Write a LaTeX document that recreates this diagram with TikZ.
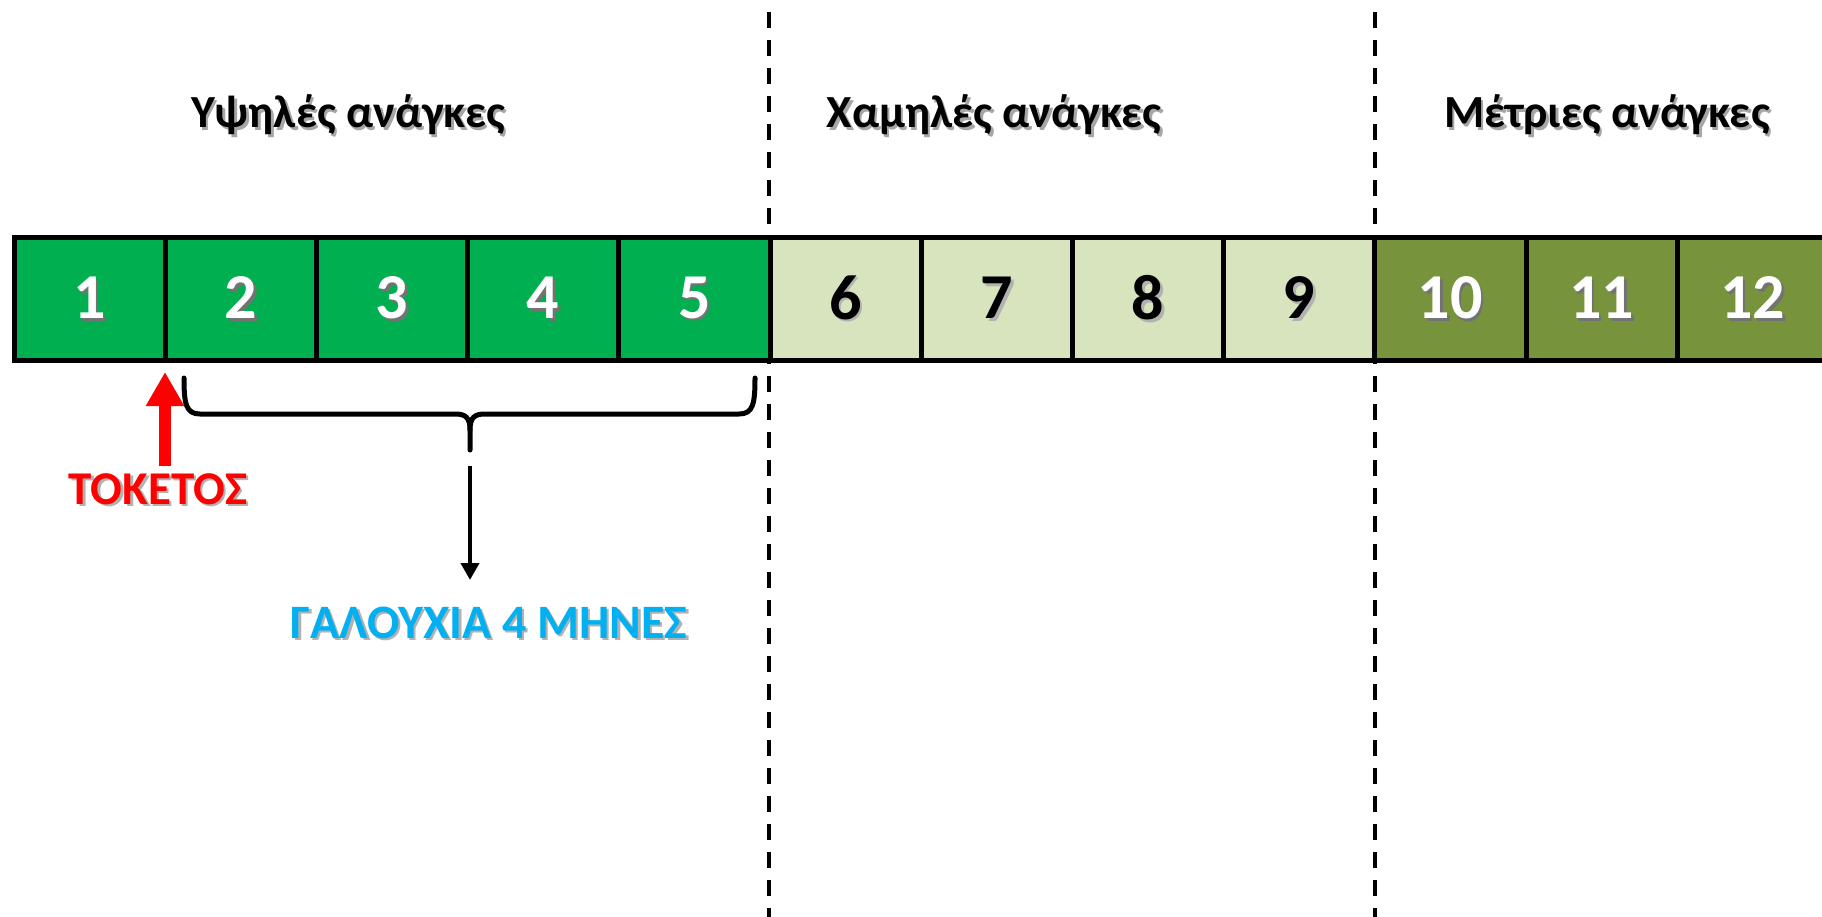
\documentclass[tikz,border=0pt]{standalone}
\usepackage{fontspec}
\setmainfont{Carlito}
\usetikzlibrary{arrows.meta}
\definecolor{hiGreen}{HTML}{00B050}
\definecolor{loGreen}{HTML}{D7E4BD}
\definecolor{midGreen}{HTML}{77933C}
\definecolor{birthRed}{HTML}{FF0000}
\definecolor{milkBlue}{HTML}{00B0F0}
\newcommand{\shtext}[2]{{\makebox[0pt][l]{\hspace{2.5pt}\raisebox{-2.5pt}{\color{#1}#2}}#2}}
\tikzset{
  cell/.style={draw=black, line width=5pt, minimum width=151.2pt, minimum height=122pt,
    inner sep=0pt, font=\fontsize{64}{70}\selectfont\bfseries},
  hicell/.style={cell, fill=hiGreen, text=white},
  locell/.style={cell, fill=loGreen, text=black},
  midcell/.style={cell, fill=midGreen, text=white},
  title/.style={font=\fontsize{46}{52}\selectfont\bfseries, anchor=base, inner sep=0pt},
  divider/.style={line width=4pt, dash pattern=on 16pt off 12pt},
  bracepath/.style={line width=5pt, line cap=round, line join=round},
  redarrow/.style={draw=birthRed, line width=12pt, -{Triangle[width=36pt,length=34pt]}},
  blackarrow/.style={line width=4pt, -{Triangle[width=18pt,length=17pt]}},
  label/.style={font=\fontsize{47}{52}\selectfont\bfseries, inner sep=0pt},
}
\begin{document}
\begin{tikzpicture}[x=1pt,y=-1pt]
\useasboundingbox (0,0) rectangle (1822,917);
% dividers
\draw[divider] (769,12) -- (769,917);
\draw[divider] (1375,12) -- (1375,917);
% titles
\node[title] (t1) at (348,128) {\shtext{black!35}{Υψηλές ανάγκες}};
\node[title] (t2) at (994,128) {\shtext{black!35}{Χαμηλές ανάγκες}};
\node[title] (t3) at (1607,128) {\shtext{black!35}{Μέτριες ανάγκες}};
% cells
\foreach \i in {1,...,5}
  \node[hicell] (b\i) at ({14+151.2*(\i-0.5)},299) {\shtext{black!55}{\i}};
\foreach \i in {6,...,9}
  \node[locell] (b\i) at ({14+151.2*(\i-0.5)},299) {\shtext{black!30}{\i}};
\foreach \i in {10,...,12}
  \node[midcell] (b\i) at ({14+151.2*(\i-0.5)},299) {\shtext{black!55}{\i}};
% birth
\node[label, text=birthRed] (birth) at (158,490) {\shtext{black!30}{ΤΟΚΕΤΟΣ}};
\coordinate (birthbase) at (165,466);
\coordinate (birthtip) at (165,372);
\draw[redarrow] (birthbase) -- (birthtip);
% brace
\coordinate (bl) at (184,378);
\coordinate (br) at (755,378);
\coordinate (btip) at (470,450);
\draw[bracepath] (bl) .. controls (184,404) and (186,414) .. (200,414) -- (455,414)
  .. controls (465,414) and (470,417) .. (470,430) -- (btip);
\draw[bracepath] (br) .. controls (755,404) and (753,414) .. (739,414) -- (485,414)
  .. controls (475,414) and (470,417) .. (470,430);
% milk
\node[label, font=\fontsize{48}{54}\selectfont\bfseries, text=milkBlue] (milk) at (489,624) {\shtext{black!30}{ΓΑΛΟΥΧΙΑ 4 ΜΗΝΕΣ}};
\coordinate (milkstart) at (470,466);
\coordinate (milkend) at (470,580);
\draw[blackarrow] (milkstart) -- (milkend);
\end{tikzpicture}
\end{document}
